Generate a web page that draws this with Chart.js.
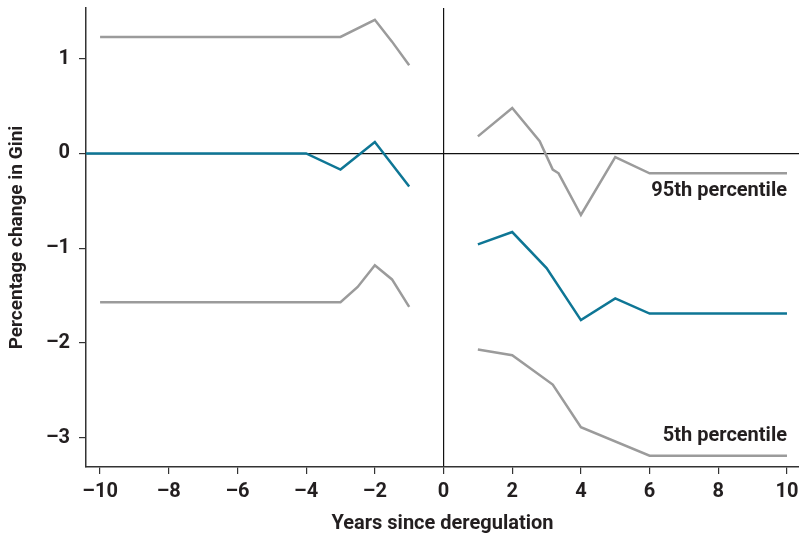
<!DOCTYPE html>
<html>
<head>
<meta charset="utf-8">
<script src="https://cdn.jsdelivr.net/npm/chart.js@4/dist/chart.umd.min.js"></script>
<style>
  html, body { margin: 0; padding: 0; background: #fff; }
  #wrap { width: 799px; height: 536px; position: relative; }
</style>
</head>
<body>
<div id="wrap"><canvas id="gini"></canvas></div>
<script>
// === DATA ===
// years since deregulation (x) and % change in Gini (y)
const p95PreX  = [-10, -3, -2, -1.5, -1];
const p95PreY  = [1.23, 1.23, 1.41, 1.18, 0.93];
const p95PostX = [1, 2, 2.8, 3.18, 3.35, 4, 5, 6, 10];
const p95PostY = [0.18, 0.48, 0.13, -0.17, -0.21, -0.65, -0.04, -0.21, -0.21];

const midPreX  = [-11, -4, -3, -2, -1];
const midPreY  = [0, 0, -0.17, 0.12, -0.35];
const midPostX = [1, 2, 3, 4, 5, 6, 10];
const midPostY = [-0.96, -0.83, -1.21, -1.76, -1.53, -1.69, -1.69];

const p5PreX   = [-10, -3, -2.5, -2, -1.5, -1];
const p5PreY   = [-1.57, -1.57, -1.41, -1.18, -1.33, -1.62];
const p5PostX  = [1, 2, 3.18, 4, 6, 10];
const p5PostY  = [-2.07, -2.13, -2.44, -2.89, -3.19, -3.19];

const xTicks = [-10, -8, -6, -4, -2, 0, 2, 4, 6, 8, 10];
const yTicks = [-3, -2, -1, 0, 1];

const seriesLabels = [
  { text: '95th percentile', x: 10, y: -0.4 },
  { text: '5th percentile', x: 10, y: -2.98 }
];

// === STYLE ===
const GREY = '#9b9b9b';
const TEAL = '#0e7695';
const INK = '#231f20';
const FONT = "Roboto, 'Liberation Sans', Arial, sans-serif";

function pts(xs, ys) {
  return xs.map((x, i) => ({ x, y: ys[i] }));
}

function line(data, color) {
  return {
    data,
    borderColor: color,
    borderWidth: 2.5,
    pointRadius: 0,
    tension: 0,
    fill: false
  };
}

// text labels placed next to the lines
const labelPlugin = {
  id: 'seriesLabels',
  afterDatasetsDraw(chart) {
    const { ctx, scales: { x, y } } = chart;
    ctx.save();
    ctx.font = 'bold 20px ' + FONT;
    ctx.fillStyle = INK;
    ctx.textAlign = 'right';
    ctx.textBaseline = 'middle';
    seriesLabels.forEach(l => {
      ctx.fillText(l.text, x.getPixelForValue(l.x), y.getPixelForValue(l.y));
    });
    ctx.restore();
  }
};

const zeroGrid = ctx => (ctx.tick && ctx.tick.value === 0) ? '#111' : 'rgba(0,0,0,0)';
const dash = v => String(v).replace('-', '\u2013');

new Chart(document.getElementById('gini'), {
  type: 'line',
  data: {
    datasets: [
      line(pts(p95PreX, p95PreY), GREY),
      line(pts(p95PostX, p95PostY), GREY),
      line(pts(p5PreX, p5PreY), GREY),
      line(pts(p5PostX, p5PostY), GREY),
      line(pts(midPreX, midPreY), TEAL),
      line(pts(midPostX, midPostY), TEAL)
    ]
  },
  options: {
    responsive: true,
    maintainAspectRatio: false,
    animation: false,
    layout: { padding: { top: 8, right: 0, left: 0, bottom: 0 } },
    plugins: {
      legend: { display: false },
      tooltip: { enabled: false }
    },
    scales: {
      x: {
        type: 'linear',
        min: -10.41,
        max: 10.35,
        afterBuildTicks: s => { s.ticks = xTicks.map(v => ({ value: v })); },
        afterFit: s => { s.height = 69; s.paddingLeft = 0; s.paddingRight = 0; },
        ticks: {
          color: INK,
          font: { family: FONT, size: 20, weight: 'bold' },
          padding: 6,
          callback: dash
        },
        grid: { color: zeroGrid, lineWidth: 1.2, tickColor: '#333', tickLength: 7 },
        border: { color: '#333', width: 1.5 },
        title: {
          display: true,
          text: 'Years since deregulation',
          color: INK,
          font: { family: FONT, size: 20, weight: 'bold' },
          padding: { top: 0, bottom: 0 }
        }
      },
      y: {
        min: -3.31,
        max: 1.535,
        afterBuildTicks: s => { s.ticks = yTicks.map(v => ({ value: v })); },
        afterFit: s => { s.width = 86; s.paddingTop = 0; s.paddingBottom = 0; },
        ticks: {
          color: INK,
          font: { family: FONT, size: 20, weight: 'bold' },
          padding: 9,
          callback: dash
        },
        grid: { color: zeroGrid, lineWidth: 1.2, tickColor: '#333', tickLength: 7 },
        border: { color: '#333', width: 1.5 },
        title: {
          display: true,
          text: 'Percentage change in Gini',
          color: INK,
          font: { family: FONT, size: 19, weight: 'bold' },
          padding: { top: 6, bottom: 0 }
        }
      }
    }
  },
  plugins: [labelPlugin]
});
</script>
</body>
</html>
